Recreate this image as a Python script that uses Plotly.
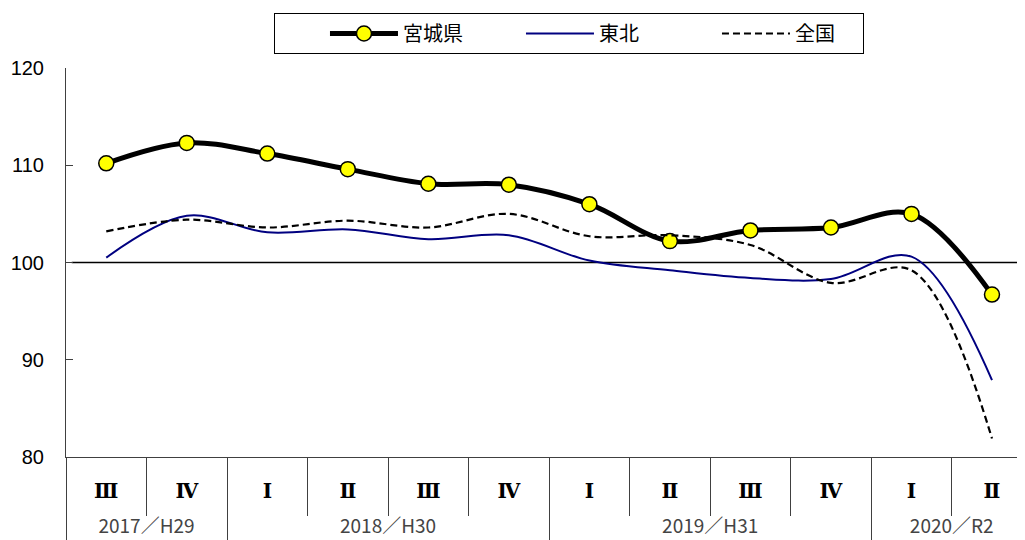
import plotly.graph_objects as go

years = ["2017／H29", "2017／H29", "2018／H30", "2018／H30", "2018／H30", "2018／H30",
         "2019／H31", "2019／H31", "2019／H31", "2019／H31", "2020／R2", "2020／R2"]
quarters = ["Ⅲ", "Ⅳ", "Ⅰ", "Ⅱ", "Ⅲ", "Ⅳ", "Ⅰ", "Ⅱ", "Ⅲ", "Ⅳ", "Ⅰ", "Ⅱ"]

miyagi = [110.2, 112.3, 111.2, 109.6, 108.1, 108.0, 106.0, 102.2, 103.3, 103.6, 105.0, 96.7]
tohoku = [100.5, 104.8, 103.1, 103.4, 102.4, 102.8, 100.2, 99.2, 98.4, 98.3, 100.6, 87.9]
zenkoku = [103.2, 104.4, 103.6, 104.3, 103.6, 105.0, 102.7, 102.8, 101.8, 97.9, 99.2, 81.9]

# category positions on the axis
idx = list(range(len(quarters)))
inner_bounds = [i + 0.5 for i in idx[:-1]]
group_names = []
group_pos = {}
for i, yname in enumerate(years):
    if yname not in group_pos:
        group_names.append(yname)
        group_pos[yname] = []
    group_pos[yname].append(i)
group_centers = [sum(group_pos[g]) / len(group_pos[g]) for g in group_names]
group_bounds = [min(group_pos[g]) - 0.5 for g in group_names]

xrange = [-0.5, 11.41]
axis_col = "#404040"

fig = go.Figure()
fig.add_trace(go.Scatter(
    x=idx, y=miyagi, name="宮城県", mode="lines+markers",
    line=dict(color="black", width=5, shape="spline", smoothing=1.0),
    marker=dict(size=15, color="#FFFF00", line=dict(color="black", width=1.5)),
))
fig.add_trace(go.Scatter(
    x=idx, y=tohoku, name="東北", mode="lines",
    line=dict(color="#000080", width=2, shape="spline", smoothing=1.0),
))
fig.add_trace(go.Scatter(
    x=idx, y=zenkoku, name="全国", mode="lines",
    line=dict(color="black", width=2.2, dash="7px,4px", shape="spline", smoothing=1.0),
))

fig.add_shape(type="line", xref="paper", yref="y", x0=0.006, x1=1, y0=100, y1=100,
              line=dict(color="black", width=1.5), layer="below")

fig.update_layout(
    width=1017, height=532,
    margin=dict(l=58, r=0, t=60, b=0, autoexpand=False),
    plot_bgcolor="white", paper_bgcolor="white",
    font=dict(family="Liberation Sans, Arial, sans-serif", color="black"),
    showlegend=True,
    legend=dict(
        orientation="h", xref="container", yref="container",
        x=0.5516, xanchor="center", y=1 - 5 / 532, yanchor="top",
        bordercolor="black", borderwidth=1, bgcolor="white",
        font=dict(family="Noto Sans CJK JP", size=20),
        itemwidth=68, entrywidth=63, indentation=50,
    ),
    xaxis=dict(
        range=xrange, tickmode="array", tickvals=idx, ticktext=quarters,
        ticks="", showline=True, linecolor=axis_col, linewidth=1,
        showgrid=False, zeroline=False,
        tickfont=dict(family="DejaVu Serif", size=20, weight="bold"),
        ticklabelstandoff=16,
        minor=dict(tickmode="array", tickvals=inner_bounds, ticks="outside",
                   ticklen=58, tickcolor=axis_col, tickwidth=1, showgrid=False),
    ),
    xaxis2=dict(
        overlaying="x", anchor="free", position=0, side="bottom",
        range=xrange, tickmode="array", tickvals=group_centers, ticktext=group_names,
        ticks="", showline=False, showgrid=False, zeroline=False,
        ticklabelposition="inside", ticklabelstandoff=0,
        tickfont=dict(family="Noto Sans CJK JP", size=19),
        minor=dict(tickmode="array", tickvals=group_bounds, ticks="inside",
                   ticklen=83, tickcolor=axis_col, tickwidth=1, showgrid=False),
    ),
    yaxis=dict(
        domain=[83 / 472, 1],
        range=[80, 120], dtick=10,
        showline=True, linecolor=axis_col, linewidth=1,
        ticks="inside", ticklen=7, tickcolor=axis_col,
        showgrid=False, zeroline=False,
        tickfont=dict(family="Liberation Sans, Arial", size=20),
        ticklabelstandoff=17,
    ),
)
# empty helper trace so the group-level axis is drawn
fig.add_trace(go.Scatter(x=[], y=[], xaxis="x2", showlegend=False, hoverinfo="skip"))

fig.write_html("out.html")
